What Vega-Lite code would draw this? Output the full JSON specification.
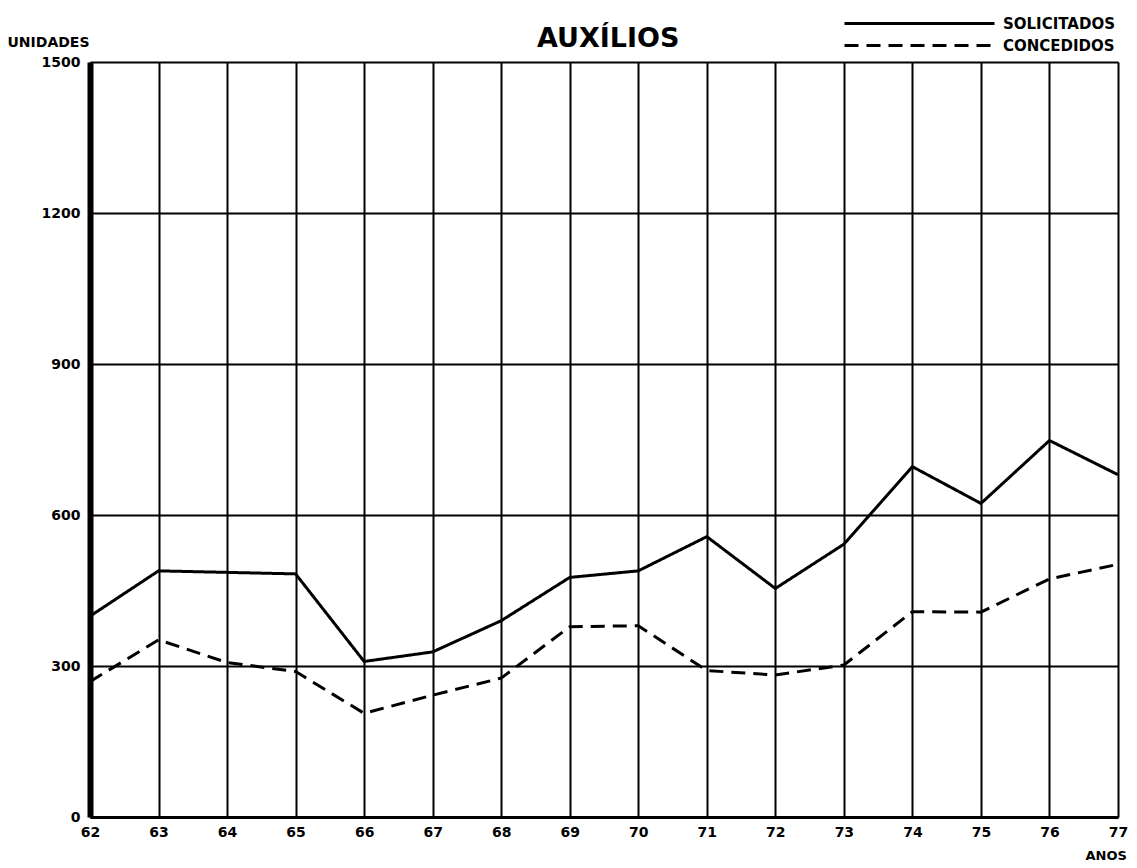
{
  "$schema": "https://vega.github.io/schema/vega-lite/v6.json",
  "autosize": {"type": "none"},
  "padding": {"left": 90, "top": 62, "right": 19, "bottom": 51},
  "width": 1028,
  "height": 755,
  "background": "white",
  "title": {
    "text": "AUXÍLIOS",
    "font": "DejaVu Sans",
    "fontWeight": "bold",
    "fontSize": 27,
    "color": "black",
    "anchor": "start",
    "dx": 530,
    "offset": 0,
    "dy": 41
  },
  "data": {
    "values": [
      {"ano": 62, "serie": "SOLICITADOS", "valor": 399},
      {"ano": 63, "serie": "SOLICITADOS", "valor": 489},
      {"ano": 64, "serie": "SOLICITADOS", "valor": 486},
      {"ano": 65, "serie": "SOLICITADOS", "valor": 483},
      {"ano": 66, "serie": "SOLICITADOS", "valor": 309},
      {"ano": 67, "serie": "SOLICITADOS", "valor": 328},
      {"ano": 68, "serie": "SOLICITADOS", "valor": 390},
      {"ano": 69, "serie": "SOLICITADOS", "valor": 476},
      {"ano": 70, "serie": "SOLICITADOS", "valor": 489},
      {"ano": 71, "serie": "SOLICITADOS", "valor": 557},
      {"ano": 72, "serie": "SOLICITADOS", "valor": 454},
      {"ano": 73, "serie": "SOLICITADOS", "valor": 542},
      {"ano": 74, "serie": "SOLICITADOS", "valor": 696},
      {"ano": 75, "serie": "SOLICITADOS", "valor": 623},
      {"ano": 76, "serie": "SOLICITADOS", "valor": 748},
      {"ano": 77, "serie": "SOLICITADOS", "valor": 680},
      {"ano": 62, "serie": "CONCEDIDOS", "valor": 269},
      {"ano": 63, "serie": "CONCEDIDOS", "valor": 352},
      {"ano": 64, "serie": "CONCEDIDOS", "valor": 307},
      {"ano": 65, "serie": "CONCEDIDOS", "valor": 289},
      {"ano": 66, "serie": "CONCEDIDOS", "valor": 206},
      {"ano": 67, "serie": "CONCEDIDOS", "valor": 242},
      {"ano": 68, "serie": "CONCEDIDOS", "valor": 276},
      {"ano": 69, "serie": "CONCEDIDOS", "valor": 378},
      {"ano": 70, "serie": "CONCEDIDOS", "valor": 380},
      {"ano": 71, "serie": "CONCEDIDOS", "valor": 291},
      {"ano": 72, "serie": "CONCEDIDOS", "valor": 282},
      {"ano": 73, "serie": "CONCEDIDOS", "valor": 302},
      {"ano": 74, "serie": "CONCEDIDOS", "valor": 408},
      {"ano": 75, "serie": "CONCEDIDOS", "valor": 407},
      {"ano": 76, "serie": "CONCEDIDOS", "valor": 473},
      {"ano": 77, "serie": "CONCEDIDOS", "valor": 502}
    ]
  },
  "mark": {"type": "line", "stroke": "black", "strokeWidth": 3, "strokeJoin": "miter"},
  "encoding": {
    "x": {
      "field": "ano",
      "type": "quantitative",
      "scale": {"domain": [62, 77], "nice": false, "zero": false},
      "axis": {
        "values": [62, 63, 64, 65, 66, 67, 68, 69, 70, 71, 72, 73, 74, 75, 76, 77],
        "format": "d",
        "title": "ANOS",
        "titleX": 995,
        "titleY": 38,
        "titleAlign": "left",
        "titleBaseline": "middle",
        "titleFont": "DejaVu Sans",
        "titleFontWeight": "bold",
        "titleFontSize": 13,
        "titleColor": "black",
        "grid": true,
        "gridColor": "black",
        "gridWidth": 2,
        "gridOpacity": 1,
        "domainColor": "black",
        "domainWidth": 3,
        "ticks": false,
        "labelPadding": 8,
        "labelFont": "DejaVu Sans",
        "labelFontWeight": "bold",
        "labelFontSize": 14,
        "labelColor": "black",
        "labelFlush": false
      }
    },
    "y": {
      "field": "valor",
      "type": "quantitative",
      "scale": {"domain": [0, 1500], "nice": false},
      "axis": {
        "values": [0, 300, 600, 900, 1200, 1500],
        "format": "d",
        "title": "UNIDADES",
        "titleAngle": 0,
        "titleX": -83,
        "titleY": -20,
        "titleAlign": "left",
        "titleBaseline": "middle",
        "titleFont": "DejaVu Sans",
        "titleFontWeight": "bold",
        "titleFontSize": 14,
        "titleColor": "black",
        "grid": true,
        "gridColor": "black",
        "gridWidth": 2,
        "gridOpacity": 1,
        "domainColor": "black",
        "domainWidth": 6,
        "ticks": false,
        "labelPadding": 10,
        "labelFont": "DejaVu Sans",
        "labelFontWeight": "bold",
        "labelFontSize": 14,
        "labelColor": "black",
        "labelFlush": false
      }
    },
    "strokeDash": {
      "field": "serie",
      "type": "nominal",
      "scale": {"domain": ["SOLICITADOS", "CONCEDIDOS"], "range": [[1, 0], [14, 8]]},
      "legend": {
        "title": null,
        "orient": "none",
        "legendX": 883,
        "legendY": -50,
        "symbolType": "M-14,0H1",
        "symbolSize": 400,
        "symbolStrokeWidth": 3,
        "symbolStrokeColor": "black",
        "labelFont": "DejaVu Sans",
        "labelFontWeight": "bold",
        "labelFontSize": 15,
        "labelColor": "black",
        "labelOffset": 7,
        "rowPadding": 2
      }
    }
  },
  "config": {
    "view": {"stroke": null}
  }
}
